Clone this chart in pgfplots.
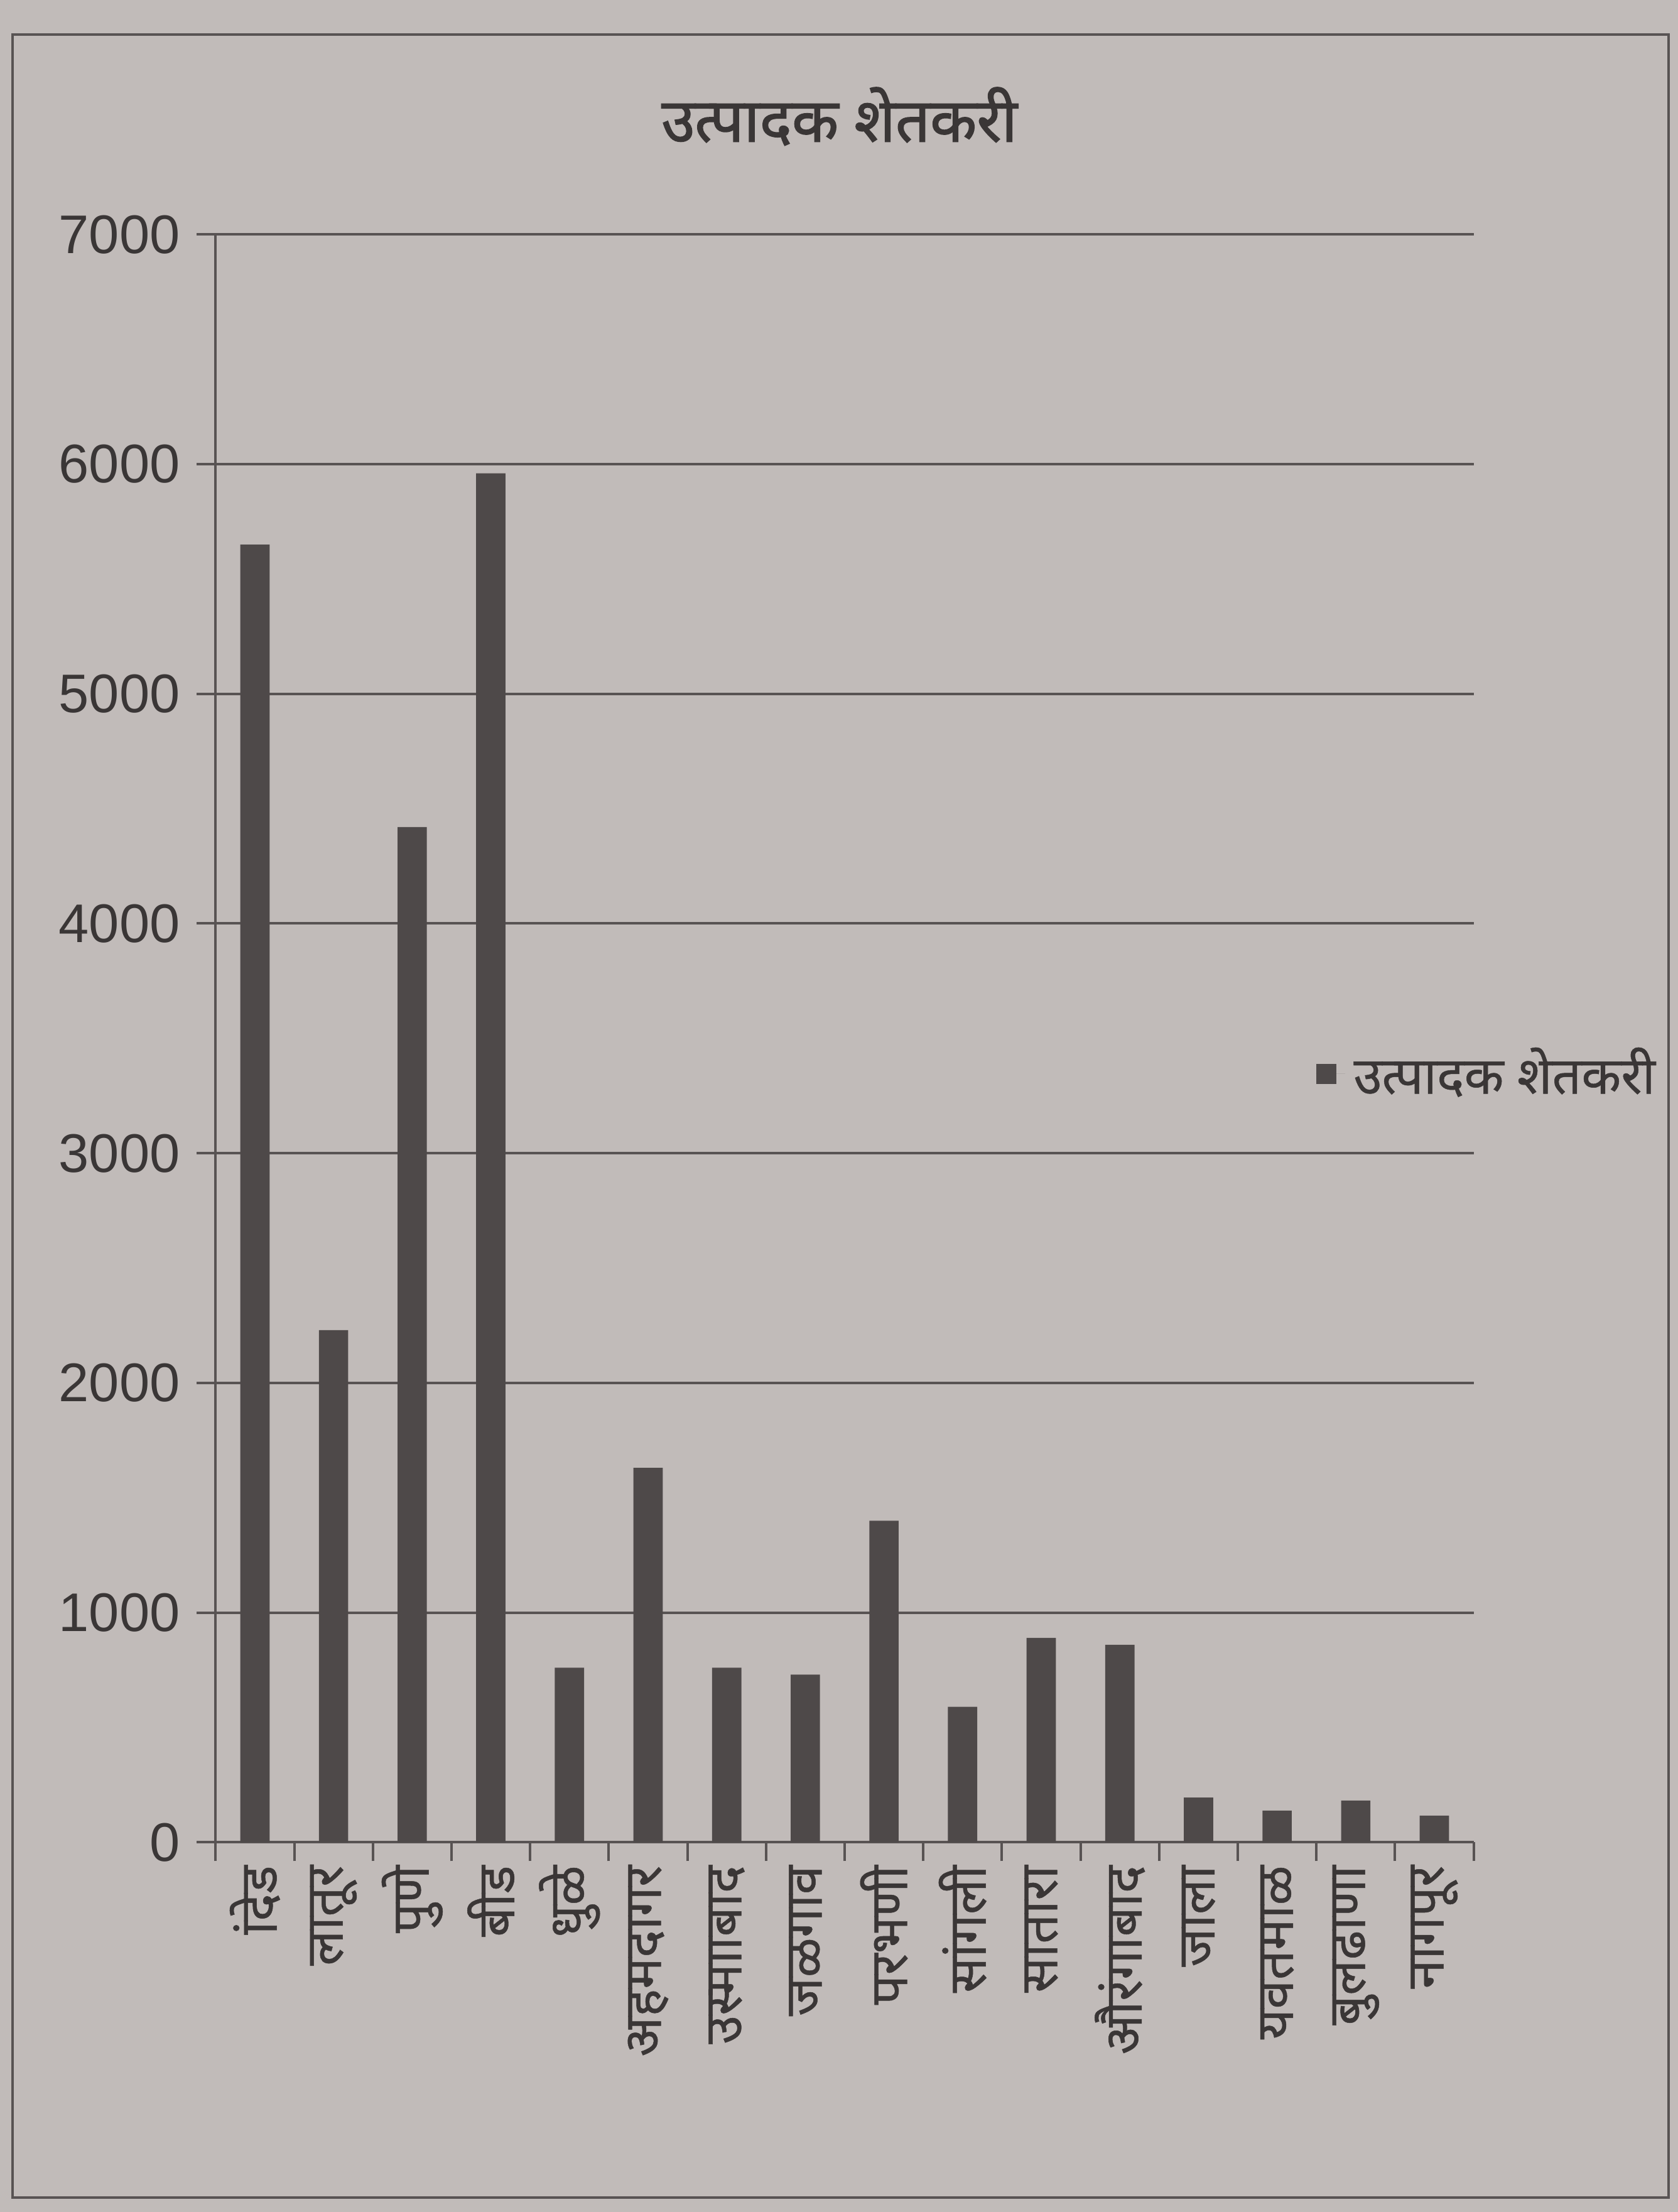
\documentclass[border=0pt]{standalone}
\usepackage{fontspec}
\usepackage{pgfplots}
\pgfplotsset{compat=1.18}
\setmainfont{Noto Sans}[Script=Devanagari, FakeBold=0.6]
\newfontfamily\titlefont{Noto Sans}[Script=Devanagari, FakeBold=1.6]
\newfontfamily\numfont{Liberation Sans}
% plain shaping for a label that opens with a vowel sign
\newfontfamily\plainfont{Noto Sans}[Script=Latin, FakeBold=0.6]

\definecolor{paper}{RGB}{193,187,185}
\definecolor{barc}{RGB}{78,73,73}
\definecolor{gridc}{RGB}{88,83,83}
\definecolor{textc}{RGB}{58,54,54}

\begin{document}
\begin{tikzpicture}[x=1pt,y=1pt]
  % page and outer frame of the chart
  \fill[paper] (0,0) rectangle (400.8,528.3);
  \path[use as bounding box] (0,0) rectangle (400.8,528.3);
  \draw[gridc, line width=0.6pt] (3,3.5) rectangle (398.5,520);

  \node[font=\titlefont\fontsize{14.5}{18}\selectfont, text=textc] at (200.5,500.5) {उत्पादक शेतकरी};

  \begin{axis}[
    at={(51.5pt,88.3pt)}, anchor=south west,
    scale only axis, width=300.5pt, height=384pt,
    ybar, bar width=7pt,
    xmin=-0.5, xmax=15.5, ymin=0, ymax=7000,
    xtick={0,...,15},
    xticklabels={{{\plainfont ां}देड}, लातूर, पुणे, बीड, धुळे, अहमदागर, उस्मााबाद, जळगाव, परभणी, सांगली, सातारा, औरंगाबाद, जाला, यवतमाळ, बुलढाणा, नागपूर},
    minor xtick={-0.5,0.5,...,15.5},
    ytick={0,1000,...,7000},
    minor ytick={0,1000,...,7000},
    major tick length=0pt, minor tick length=4.5pt,
    tick align=outside,
    minor tick style={gridc, line width=0.6pt},
    ymajorgrids, grid style={gridc, line width=0.6pt},
    axis x line*=bottom, axis y line*=left,
    axis line style={gridc, line width=0.6pt},
    /pgf/number format/assume math mode=true,
    /pgf/number format/1000 sep={},
    yticklabel style={font=\numfont\fontsize{13}{13}\selectfont, text=textc, xshift=-5pt},
    xticklabel style={font=\fontsize{12.5}{14}\selectfont, text=textc, rotate=90, anchor=east, xshift=-2pt},
    legend style={at={(0.864,0.478)}, anchor=west, draw=none, fill=none,
      font=\fontsize{12.3}{15}\selectfont, text=textc},
    legend image code/.code={%
      \fill[barc] (0pt,-2.4pt) rectangle (4.8pt,2.4pt);
      \path (0pt,0pt) -- (7pt,0pt);},
  ]
    \addplot[fill=barc, draw=none] coordinates {
      (0,5650) (1,2230) (2,4420) (3,5960) (4,760) (5,1630) (6,760) (7,730)
      (8,1400) (9,590) (10,890) (11,860) (12,195) (13,138) (14,182) (15,116)
    };
    \addlegendentry{उत्पादक शेतकरी}
  \end{axis}
\end{tikzpicture}
\end{document}
